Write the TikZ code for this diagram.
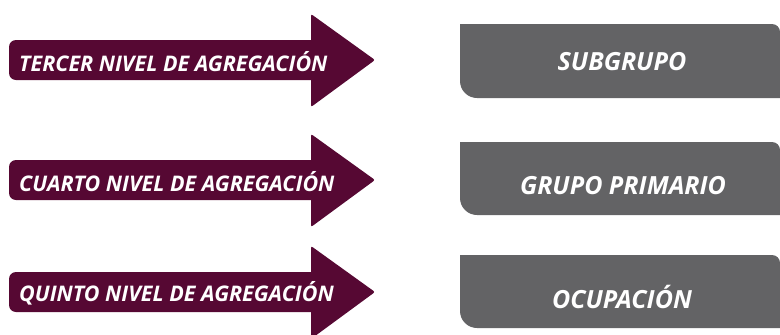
\documentclass[tikz,border=0pt]{standalone}
\usepackage{fontspec}
\setmainfont{Open Sans}
\definecolor{maroon}{HTML}{560833}
\definecolor{boxgray}{HTML}{636365}
\begin{document}
\begin{tikzpicture}[x=1pt,y=-1pt,
  arrowtxt/.style={anchor=west,text=white,font=\fontsize{21.5}{22}\selectfont\bfseries\itshape,inner sep=0pt},
  boxtxt/.style={text=white,font=\fontsize{25}{25}\selectfont\bfseries\itshape,inner sep=0pt}]
\useasboundingbox (0,0) rectangle (780,335);
\foreach \cy in {60,180,292}{
  \fill[maroon] (311,\cy-20) [rounded corners=2pt] -- (311,\cy-46) -- (375,\cy) -- (311,\cy+47) [sharp corners] -- (311,\cy+20) [rounded corners=7pt] -- (9,\cy+20) -- (9,\cy-20) [sharp corners] -- cycle;
}
\foreach \top/\bot in {24/98,142/215,255/328}{
  \fill[boxgray] (460,\top) [rounded corners=8pt] -- (780,\top) [sharp corners] -- (780,\bot) [rounded corners=17pt] -- (460,\bot) [sharp corners] -- cycle;
}
\node[arrowtxt] (a1) at (19,62) {TERCER NIVEL DE AGREGACIÓN};
\node[arrowtxt] (a2) at (19,182) {CUARTO NIVEL DE AGREGACIÓN};
\node[arrowtxt] (a3) at (19,293) {QUINTO NIVEL DE AGREGACIÓN};
\node[boxtxt] (b1) at (622,62) {SUBGRUPO};
\node[boxtxt] (b2) at (623,186) {GRUPO PRIMARIO};
\node[boxtxt] (b3) at (622,297) {OCUPACIÓN};
\end{tikzpicture}
\end{document}
